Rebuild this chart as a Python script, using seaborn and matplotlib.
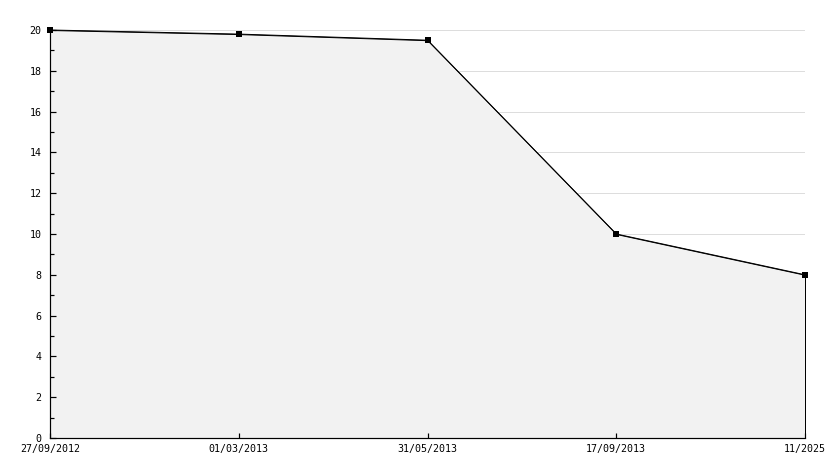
import matplotlib
matplotlib.use("Agg")
import matplotlib.pyplot as plt
import seaborn as sns
import pandas as pd
from matplotlib.ticker import MultipleLocator

dates = ["27/09/2012", "01/03/2013", "31/05/2013", "17/09/2013", "11/2025"]
values = [20, 19.8, 19.5, 10, 8]

sns.set_style("white")
plt.rcParams['font.family'] = ['DejaVu Sans Mono']

df = pd.DataFrame({"pos": list(range(len(dates))), "value": values})

fig = plt.figure(figsize=(8.34, 4.68), dpi=100)
ax = fig.add_axes([50/834, 30/468, 755/834, 408/468])
ax.set_axisbelow(False)

px = 0.72
ax.fill_between(df["pos"], df["value"], 0, color="#f2f2f2", edgecolor="black",
                linewidth=px, zorder=1)
for y in range(2, 21, 2):
    ax.axhline(y, color="#dddddd", linewidth=px, zorder=0.5)
sns.lineplot(data=df, x="pos", y="value", ax=ax, color="black", linewidth=px,
             marker="s", markersize=4, markeredgewidth=0, zorder=3, clip_on=False)

ax.set_xlim(0, len(dates) - 1)
ax.set_ylim(0, 20)
ax.set_xticks(df["pos"])
ax.set_xticklabels(dates)
ax.yaxis.set_major_locator(MultipleLocator(2))
ax.yaxis.set_minor_locator(MultipleLocator(1))
ax.set_xlabel("")
ax.set_ylabel("")

for s in ["top", "right"]:
    ax.spines[s].set_visible(False)
for s in ["left", "bottom"]:
    ax.spines[s].set_color("black")
    ax.spines[s].set_linewidth(1.2 * px)
    ax.spines[s].set_zorder(4)

ax.tick_params(axis="y", which="major", direction="in", length=4, width=1.2*px,
               color="black", labelcolor="black", labelsize=7.2, pad=6, left=True)
ax.tick_params(axis="y", which="minor", direction="in", length=3, width=1.2*px,
               color="black", left=True)
ax.tick_params(axis="x", which="major", direction="in", length=3.5, width=1.2*px,
               color="black", labelcolor="black", labelsize=7.2, pad=4, bottom=True)
ax.set_facecolor("white")
ax.grid(False)

fig.savefig("out.png", dpi=100)
